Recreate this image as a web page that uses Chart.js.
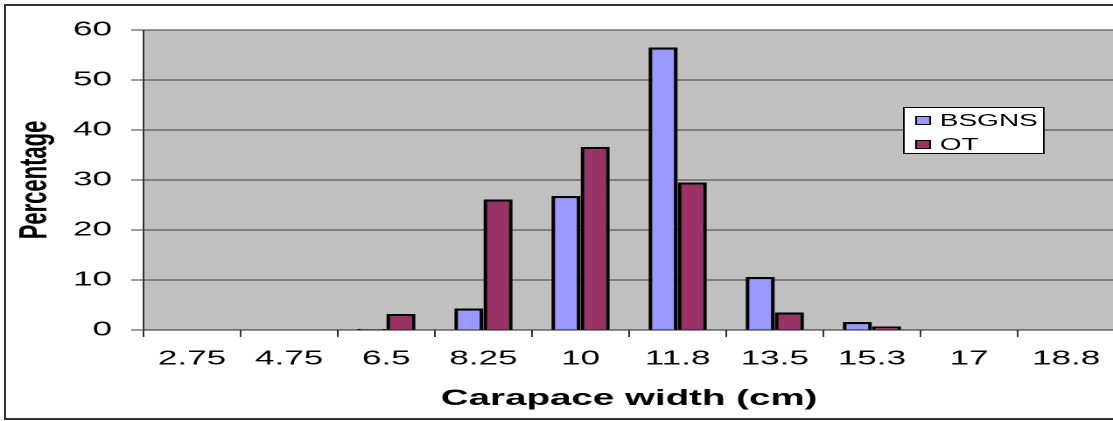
<!DOCTYPE html>
<html>
<head>
<meta charset="utf-8">
<script src="https://cdn.jsdelivr.net/npm/chart.js@4.4.1/dist/chart.umd.min.js"></script>
<style>
    html, body { margin: 0; padding: 0; background: #fff; overflow: hidden; }
    body { width: 1113px; height: 421px; position: relative; }
    #frame {
        position: absolute; left: 4px; top: 4px;
        width: 1200px; height: 412px;
        border: 2px solid #333;
    }
    /* the original picture is stretched sideways, so the whole chart is too */
    #stretch {
        position: absolute; left: 0; top: 0;
        width: 640px; height: 421px;
        transform: scaleX(1.75); transform-origin: 0 0;
    }
    #legend {
        position: absolute; left: 516px; top: 107px;
        width: 79px; height: 45px;
        border: 1px solid #000; background: #fff;
        font-family: 'Liberation Sans', Arial, sans-serif; font-size: 16px; color: #000;
    }
    .item { position: absolute; left: 6px; height: 20px; line-height: 20px; white-space: nowrap; }
    .swatch {
        display: inline-block; width: 7px; height: 7px;
        border: 1px solid #000; margin-right: 5px; vertical-align: 1px;
    }
</style>
</head>
<body>
<div id="frame"></div>
<div id="stretch">
    <canvas id="sizeChart" width="640" height="421"></canvas>
    <div id="legend"></div>
</div>
<script>
// Size classes (carapace width, cm)
const sizeClasses = ['2.75', '4.75', '6.5', '8.25', '10', '11.8', '13.5', '15.3', '17', '18.8'];

// Percentage in each class
const bsgnsValues = [0, 0, 0.2, 4.3, 26.8, 56.5, 10.6, 1.6, 0, 0];
const otValues = [0, 0, 3.2, 26.1, 36.6, 29.5, 3.5, 0.7, 0, 0];

const seriesNames = ['BSGNS', 'OT'];
const seriesColors = ['#9999FF', '#993366'];

// Y axis ticks
const yMin = 0;
const yMax = 60;
const yStep = 10;

const FONT = "'Liberation Sans', Arial, sans-serif";

// Gray plot area
const plotBackground = {
    id: 'plotBackground',
    beforeDraw(chart) {
        const { ctx, chartArea } = chart;
        ctx.save();
        ctx.fillStyle = '#C0C0C0';
        ctx.fillRect(chartArea.left, chartArea.top, chartArea.right - chartArea.left, chartArea.bottom - chartArea.top);
        ctx.restore();
    }
};

function buildLegend() {
    const legend = document.getElementById('legend');
    seriesNames.forEach((name, i) => {
        const item = document.createElement('div');
        item.className = 'item';
        item.style.top = (3 + i * 24) + 'px';
        item.innerHTML = `<span class="swatch" style="background:${seriesColors[i]}"></span>${name}`;
        legend.appendChild(item);
    });
}

const ctx = document.getElementById('sizeChart').getContext('2d');
new Chart(ctx, {
    type: 'bar',
    data: {
        labels: sizeClasses,
        datasets: [
            {
                label: seriesNames[0],
                data: bsgnsValues,
                backgroundColor: seriesColors[0],
                borderColor: '#000',
                borderWidth: 2.2
            },
            {
                label: seriesNames[1],
                data: otValues,
                backgroundColor: seriesColors[1],
                borderColor: '#000',
                borderWidth: 2.2
            }
        ]
    },
    options: {
        responsive: false,
        animation: false,
        devicePixelRatio: 2,
        layout: { padding: { left: 0, right: 3, top: 30, bottom: 9 } },
        datasets: { bar: { categoryPercentage: 0.6, barPercentage: 1 } },
        plugins: {
            legend: { display: false },
            tooltip: { enabled: false }
        },
        scales: {
            x: {
                offset: true,
                grid: {
                    offset: true,
                    drawOnChartArea: false,
                    drawTicks: true,
                    tickLength: 7,
                    color: '#333'
                },
                border: { display: true, color: '#222', width: 1 },
                ticks: {
                    color: '#000',
                    font: { family: FONT, size: 20 },
                    padding: 10,
                    maxRotation: 0,
                    autoSkip: false
                },
                title: {
                    display: true,
                    text: 'Carapace width (cm)',
                    color: '#000',
                    font: { family: FONT, size: 22, weight: 'bold' },
                    padding: { top: 0, bottom: 0 }
                },
                afterFit(scale) { scale.height = 421 - 330 - 9; }
            },
            y: {
                min: yMin,
                max: yMax,
                grid: {
                    color: '#3a3a3a',
                    lineWidth: 1,
                    drawTicks: true,
                    tickLength: 7
                },
                border: { display: true, color: '#333', width: 1 },
                ticks: {
                    stepSize: yStep,
                    color: '#000',
                    font: { family: FONT, size: 20 },
                    padding: 11
                },
                title: {
                    display: true,
                    text: 'Percentage',
                    color: '#000',
                    font: { family: FONT, size: 22, weight: 'bold' },
                    padding: { top: 7, bottom: 0 }
                },
                afterFit(scale) { scale.width = 82; }
            }
        }
    },
    plugins: [plotBackground]
});

buildLegend();
</script>
</body>
</html>
